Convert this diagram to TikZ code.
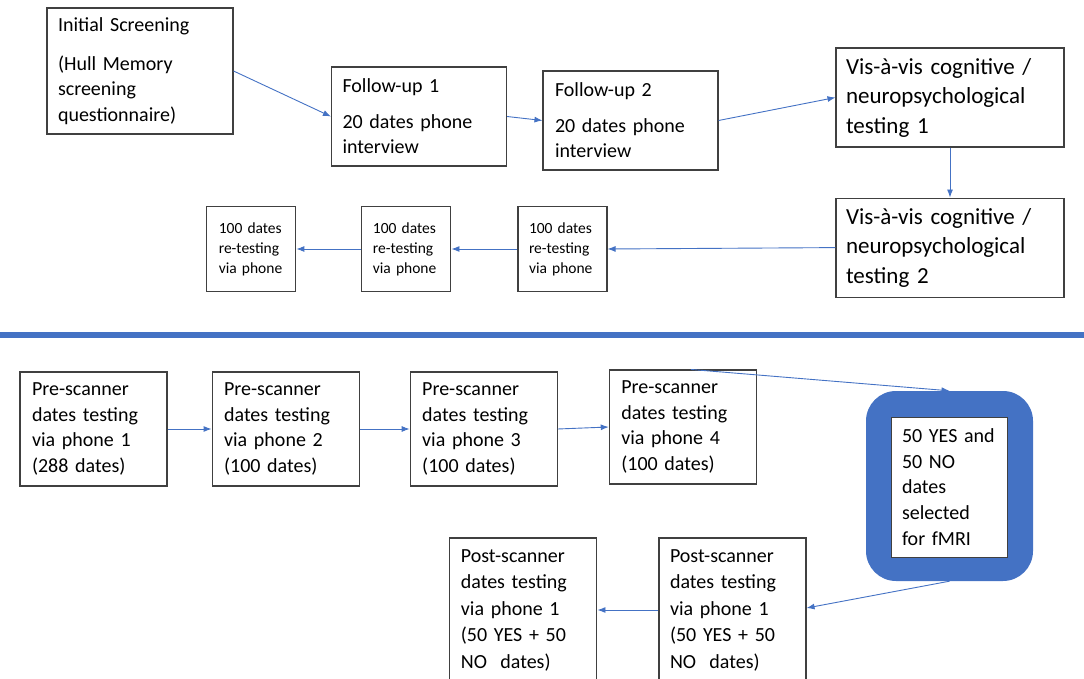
\documentclass[tikz,border=0pt]{standalone}
\usepackage{fontspec}
\setmainfont{Carlito}
\usepackage{tikz}
\usetikzlibrary{arrows.meta,positioning}
\definecolor{linkblue}{HTML}{4472C4}
\definecolor{boxgray}{HTML}{404040}
\tikzset{
  basic/.style  = {draw=boxgray, line width=1.1pt, rectangle, align=left, inner ysep=0pt},
  first/.style  = {basic, font=\fontsize{20}{25.5}\selectfont, inner xsep=11pt,
                   text width=164pt, minimum height=126pt},
  follow/.style = {basic, font=\fontsize{20}{25}\selectfont, inner xsep=11pt,
                   text width=153pt, minimum height=99pt},
  visit/.style  = {basic, font=\fontsize{23}{29.5}\selectfont, inner xsep=10pt,
                   text width=208pt, minimum height=99pt},
  retest/.style = {basic, font=\fontsize{15.5}{20}\selectfont, inner xsep=11pt,
                   text width=67pt, minimum height=85pt},
  scan/.style   = {basic, font=\fontsize{20}{25.8}\selectfont, inner xsep=12pt,
                   text width=123pt, minimum height=114pt},
  post/.style   = {scan, font=\fontsize{20}{26.5}\selectfont, inner xsep=11pt,
                   text width=125pt, minimum height=144pt},
  pick/.style   = {rectangle, fill=linkblue, rounded corners=30pt,
                   minimum width=167pt, minimum height=190pt},
  pickin/.style = {basic, fill=white, line width=0.8pt, font=\fontsize{20}{25.8}\selectfont,
                   inner xsep=11pt, text width=94pt, minimum height=140pt},
  flow/.style   = {->, draw=linkblue, line width=0.9pt}
}

\begin{document}
\begin{tikzpicture}[x=1pt, y=-1pt, >={Latex[length=8pt,width=6pt]}]
\useasboundingbox (0,0) rectangle (1084,679);
\clip (0,0) rectangle (1084,679);

% upper part: screening and follow-up
\node[first] (init) at (140,71) {Initial Screening\\[13pt] (Hull Memory\\ screening\\ questionnaire)};
\node[follow] (fu1) at (419,116.5) {Follow-up 1\\[11pt] 20 dates phone\\ interview};
\node[follow, inner xsep=12pt, text width=151pt] (fu2) at (630.5,120.5) {Follow-up 2\\[11pt] 20 dates phone\\ interview};
\node[visit] (vis1) at (950,97.5) {Vis-à-vis cognitive /\\ neuropsychological\\ testing 1};
\node[visit, below=50pt of vis1] (vis2) {Vis-à-vis cognitive /\\ neuropsychological\\ testing 2};

% re-testing via phone, right to left
\node[retest] (rt3) at (562.5,249) {100 dates\\ re-testing\\ via phone};
\node[retest, left=66pt of rt3] (rt2) {100 dates\\ re-testing\\ via phone};
\node[retest, left=65pt of rt2, inner xsep=12pt, text width=65pt] (rt1) {100 dates\\ re-testing\\ via phone};

% divider
\draw[linkblue, line width=6pt] (0,335) -- (1084,335);

% lower part: scanner sessions
\node[scan] (pre1) at (93.5,429) {Pre-scanner\\ dates testing\\ via phone 1\\ (288 dates)};
\node[scan, right=44pt of pre1] (pre2) {Pre-scanner\\ dates testing\\ via phone 2\\ (100 dates)};
\node[scan, right=50pt of pre2] (pre3) {Pre-scanner\\ dates testing\\ via phone 3\\ (100 dates)};
\node[scan, right=51pt of pre3, yshift=2pt] (pre4) {Pre-scanner\\ dates testing\\ via phone 4\\ (100 dates)};

\node[pick] (sel) at (949.5,486) {};
\node[pickin] (selin) at (949,487) {50 YES and\\ 50 NO\\ dates\\ selected\\ for fMRI};

\node[post] (post2) at (732.5,610) {Post-scanner\\ dates testing\\ via phone 1\\ (50 YES + 50\\ NO\ \ dates)};
\node[post, left=61pt of post2] (post1) {Post-scanner\\ dates testing\\ via phone 1\\ (50 YES + 50\\ NO\ \ dates)};

\draw[flow] (init.east) -- (fu1.west);
\draw[flow] (fu1.east) -- (fu2.west);
\draw[flow] (fu2.east) -- (vis1.west);
\draw[flow] (vis1.south) -- (vis2.north);
\draw[flow] (vis2.west) -- (rt3.east);
\draw[flow] (rt3.west) -- (rt2.east);
\draw[flow] (rt2.west) -- (rt1.east);

\draw[flow] (pre1.east) -- (pre2.west);
\draw[flow] (pre2.east) -- (pre3.west);
\draw[flow] (pre3.east) -- (pre4.west);
\draw[flow] ([xshift=8pt]pre4.north) -- (sel.north);
\draw[flow] (sel.south) -- ([yshift=2pt]post2.east);
\draw[flow] (post2.west) -- (post1.east);
\end{tikzpicture}
\end{document}
